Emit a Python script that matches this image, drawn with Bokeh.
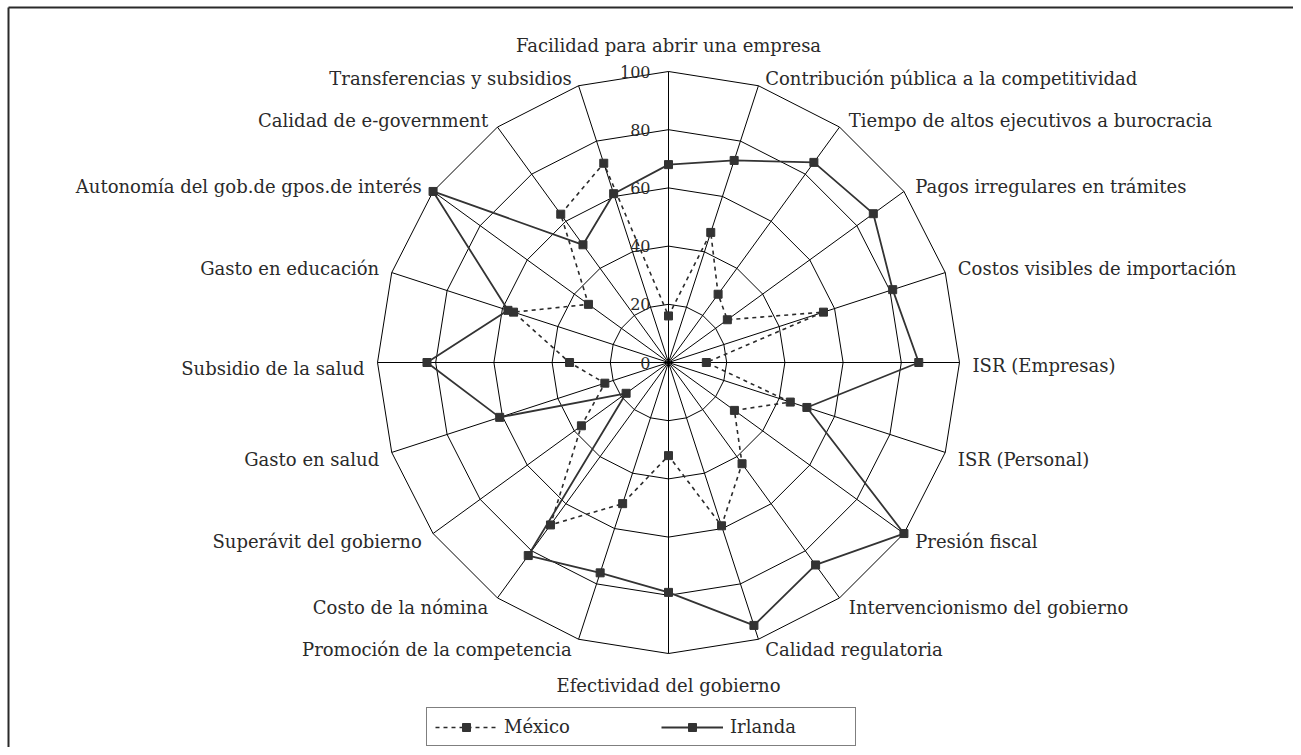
import math
from bokeh.plotting import figure
from bokeh.models import Range1d, ColumnDataSource, Legend, LegendItem
from bokeh.core.properties import value
from bokeh.embed import file_html
from bokeh.resources import INLINE

categories = [
    "Facilidad para abrir una empresa",
    "Contribución pública a la competitividad",
    "Tiempo de altos ejecutivos a burocracia",
    "Pagos irregulares en trámites",
    "Costos visibles de importación",
    "ISR (Empresas)",
    "ISR (Personal)",
    "Presión fiscal",
    "Intervencionismo del gobierno",
    "Calidad regulatoria",
    "Efectividad del gobierno",
    "Promoción de la competencia",
    "Costo de la nómina",
    "Superávit del gobierno",
    "Gasto en salud",
    "Subsidio de la salud",
    "Gasto en educación",
    "Autonomía del gob.de gpos.de interés",
    "Calidad de e-government",
    "Transferencias y subsidios",
]
mexico = [16, 47, 29, 25, 56, 13, 44, 28, 43, 59, 32, 51, 69, 37, 23, 34, 56, 34, 63, 72]
irlanda = [68, 73, 85, 87, 81, 86, 50, 100, 86, 95, 79, 76, 82, 18, 61, 83, 58, 100, 50, 61]
ticks = [0, 20, 40, 60, 80, 100]
tick_labels = ["0", "20", "40", "60", "80", "100"]
series_names = ["México", "Irlanda"]

FONT = "DejaVu Serif"
W, H = 1293, 747
K = 2.91          # pixels per value unit
CX, CY = 668, 362  # centre in canvas pixels (from top-left)

n = len(categories)
angles = [math.pi / 2 - i * 2 * math.pi / n for i in range(n)]
cosv = [math.cos(a) for a in angles]
sinv = [math.sin(a) for a in angles]
vmax = ticks[-1]

p = figure(width=W, height=H, output_backend="svg", toolbar_location=None,
           x_range=Range1d(-CX / K, (W - CX) / K),
           y_range=Range1d(-(H - CY) / K, CY / K),
           min_border=0, outline_line_color=None)
p.axis.visible = False
p.grid.visible = False
p.background_fill_color = "white"
p.border_fill_color = "white"

# frame lines (top and left of the chart area)
x0, x1 = p.x_range.start, p.x_range.end
y0, y1 = p.y_range.start, p.y_range.end
fx = x0 + 8 / K
fy = y1 - 7 / K
p.segment(x0=[fx, fx], y0=[fy, fy], x1=[x1, fx], y1=[fy, y0],
          line_color="#2a2a2a", line_width=2)

# grid rings
ring_xs, ring_ys = [], []
for t in ticks[1:]:
    ring_xs.append([t * c for c in cosv] + [t * cosv[0]])
    ring_ys.append([t * s for s in sinv] + [t * sinv[0]])
p.multi_line(xs=ring_xs, ys=ring_ys, line_color="black", line_width=1)

# spokes
p.segment(x0=[0] * n, y0=[0] * n, x1=[vmax * c for c in cosv], y1=[vmax * s for s in sinv],
          line_color="black", line_width=1)

# tick labels
p.text(x=[0] * len(ticks), y=ticks, text=tick_labels, x_offset=-18, text_align="right",
       text_baseline="middle", text_font=value(FONT), text_font_size=value("16px"),
       text_color="#2a2a2a")

# category labels
lx, ly, al, xo, yo = [], [], [], [], []
for c, s in zip(cosv, sinv):
    lx.append(vmax * c)
    ly.append(vmax * s)
    if abs(c) < 0.01:
        al.append("center")
        xo.append(0)
        yo.append(-26 if s > 0 else 32)
    else:
        al.append("left" if c > 0 else "right")
        xo.append((4 + 9 * abs(c)) * (1 if c > 0 else -1))
        yo.append(-7 * s + 3 * (1 - abs(s)) * (-1 if s > 0 else 1) + (3 if s < 0 else 0))
lsrc = ColumnDataSource(dict(x=lx, y=ly, text=categories, align=al, xo=xo, yo=yo))
p.text(x="x", y="y", text="text", source=lsrc, text_align="align", x_offset="xo", y_offset="yo",
       text_baseline="middle", text_font=value(FONT), text_font_size=value("18px"),
       text_color="#2a2a2a")

# series
def closed(vals):
    xs = [v * c for v, c in zip(vals, cosv)]
    ys = [v * s for v, s in zip(vals, sinv)]
    return xs, ys

mx, my = closed(mexico)
ix, iy = closed(irlanda)

mex_line = p.line(mx + [mx[0]], my + [my[0]], line_color="#2a2a2a", line_width=1.6, line_dash="4 4")
mex_pts = p.scatter(mx, my, marker="square", size=8, fill_color="#333333", line_color="#333333")
irl_line = p.line(ix + [ix[0]], iy + [iy[0]], line_color="#333333", line_width=1.8)
irl_pts = p.scatter(ix, iy, marker="square", size=8, fill_color="#333333", line_color="#333333")

legend = Legend(items=[LegendItem(label=series_names[0], renderers=[mex_line, mex_pts]),
                       LegendItem(label=series_names[1], renderers=[irl_line, irl_pts])],
                orientation="horizontal", location=(426, 1), border_line_color="black",
                border_line_width=1, padding=8, spacing=40, glyph_width=62, glyph_height=20,
                label_standoff=7, label_width=117, label_text_font=FONT,
                label_text_font_size="18px", label_text_color="#2a2a2a",
                background_fill_color="white", background_fill_alpha=1, margin=0)
p.add_layout(legend, "center")

open("out.html", "w").write(file_html(p, INLINE))
